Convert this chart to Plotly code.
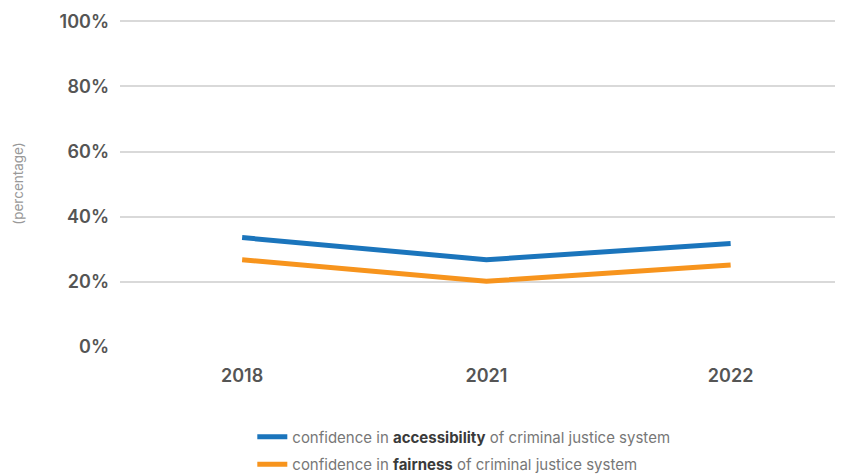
import plotly.graph_objects as go

years = ["2018", "2021", "2022"]
accessibility = [33.6, 26.8, 31.8]
fairness = [26.8, 20.2, 25.2]
y_ticks = [0, 20, 40, 60, 80, 100]
y_tick_labels = ["0%", "20%", "40%", "60%", "80%", "100%"]

FONT = "Inter"

fig = go.Figure()
fig.add_trace(go.Scatter(
    x=years, y=accessibility, mode="lines", legendgroup="a",
    name='confidence in <b><span style="color:#3a3a3a">accessibility</span></b> of criminal justice system',
    line=dict(color="#1B75BC", width=5),
))
fig.add_trace(go.Scatter(
    x=years, y=fairness, mode="lines", legendgroup="f",
    name='confidence in <b><span style="color:#3a3a3a">fairness</span></b> of criminal justice system',
    line=dict(color="#F7941D", width=5),
))

# the page body adds an 8px offset; the figure is sized to fill the window
fig.update_layout(
    width=835, height=466,
    margin=dict(l=112, r=0, t=12, b=127),
    plot_bgcolor="white", paper_bgcolor="white",
    font=dict(family=FONT, color="#666666"),
    showlegend=True,
    legend=dict(
        xref="paper", yref="container",
        x=0.183, y=0.115, xanchor="left", yanchor="top",
        font=dict(size=15, color="#777777", family=FONT),
        tracegroupgap=5,
    ),
    xaxis=dict(
        type="category", range=[-0.5, 2.46],
        showgrid=False, zeroline=False, showline=False,
        ticks="", ticklabelstandoff=16,
        tickfont=dict(size=18, color="#555555", family=FONT, weight=600),
    ),
    yaxis=dict(
        range=[0, 100.4], tickvals=y_ticks, ticktext=y_tick_labels,
        showgrid=True, gridcolor="#d9d9d9", gridwidth=1.5,
        zeroline=False, showline=False, ticks="", ticklabelstandoff=10,
        tickfont=dict(size=18, color="#555555", family=FONT, weight=600),
        title=dict(text="(percentage)", standoff=32,
                   font=dict(size=13.5, color="#999999", family=FONT)),
    ),
)

fig.write_html("out.html")
